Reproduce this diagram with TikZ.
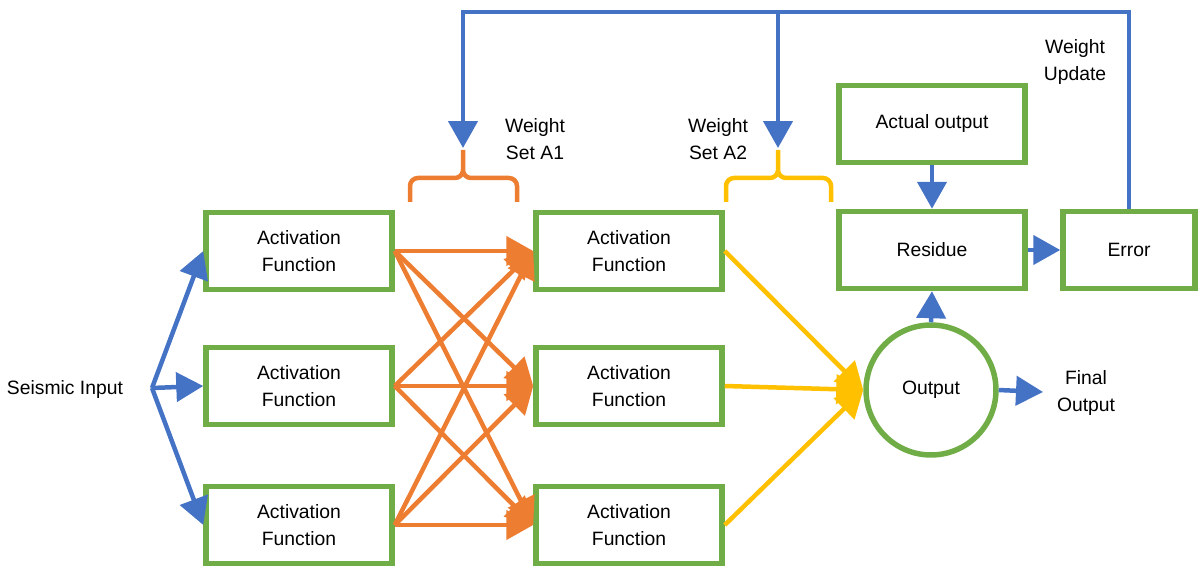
\documentclass[tikz,border=0pt]{standalone}
\usepackage{fontspec}
\setmainfont{Liberation Sans}
\usetikzlibrary{arrows.meta}
\definecolor{boxgreen}{HTML}{70AD47}
\definecolor{flowblue}{HTML}{4472C4}
\definecolor{wtorange}{HTML}{ED7D31}
\definecolor{wtyellow}{HTML}{FFC000}
\begin{document}
\begin{tikzpicture}[x=0.02cm,y=-0.02cm,
	font=\fontsize{11}{15.4}\selectfont,
	unit/.style={draw=boxgreen,line width=0.11cm,minimum width=3.72cm,minimum height=1.54cm,align=center,inner sep=0pt},
	lbl/.style={align=center,inner sep=0pt},
	link/.style={line width=0.09cm,-{Triangle[length=0.54cm,width=0.58cm]}},
	brace/.style={line width=0.09cm,rounded corners=0.16cm}]
	\useasboundingbox (0,0) rectangle (1200,567);
	% hidden layer boxes
	\node[unit] (a1) at (299,251) {Activation\\Function};
	\node[unit] (a2) at (299,386) {Activation\\Function};
	\node[unit] (a3) at (299,525) {Activation\\Function};
	\node[unit] (b1) at (629,251) {Activation\\Function};
	\node[unit] (b2) at (629,386) {Activation\\Function};
	\node[unit] (b3) at (629,525) {Activation\\Function};
	\node[unit] (act) at (932,124) {Actual output};
	\node[unit] (res) at (932,250) {Residue};
	\node[unit,minimum width=2.64cm] (err) at (1129,250) {Error};
	\node[draw=boxgreen,line width=0.11cm,circle,minimum size=2.6cm,inner sep=0pt] (out) at (931,390) {Output};
	% labels
	\node[lbl] (seis) at (65,390) {Seismic Input};
	\node[lbl] (wsA1) at (535,139) {Weight\\Set A1};
	\node[lbl] (wsA2) at (718,139) {Weight\\Set A2};
	\node[lbl] (wupd) at (1075,62) {Weight\\Update};
	\node[lbl] (fout) at (1086,393) {Final\\Output};
	\coordinate (split) at (152,388);
	\coordinate (wA1) at (463,148);
	\coordinate (wA2) at (778,148);
	\coordinate (fbtop) at (1129,12);
	\coordinate (fo) at (1043,392);
	% input
	\foreach \i in {1,2,3}
		\draw[link,flowblue] (split) -- (a\i.west);
	% weights
	\foreach \i in {1,2,3}
		\foreach \j in {1,2,3}
			\draw[link,wtorange] (a\i.east) -- (b\j.west);
	\foreach \j in {1,2,3}
		\draw[link,wtyellow] (b\j.east) -- (out.west);
	\draw[brace,wtorange] (410,202) |- (463,178) -- (463,150)
		(517,202) |- (463,178) -- (463,150);
	\draw[brace,wtyellow] (726,202) |- (778,178) -- (778,150)
		(831,202) |- (778,178) -- (778,150);
	% output side
	\draw[link,flowblue] (act.south) -- (res.north);
	\draw[link,flowblue] (out.north) -- (res.south);
	\draw[link,flowblue] (res.east) -- (err.west);
	\draw[link,flowblue] (out.east) -- (fo);
	% feedback
	\draw[link,flowblue] (err.north) -- (fbtop) -| (wA1);
	\draw[link,flowblue] (wA2 |- fbtop) -- (wA2);
\end{tikzpicture}
\end{document}
